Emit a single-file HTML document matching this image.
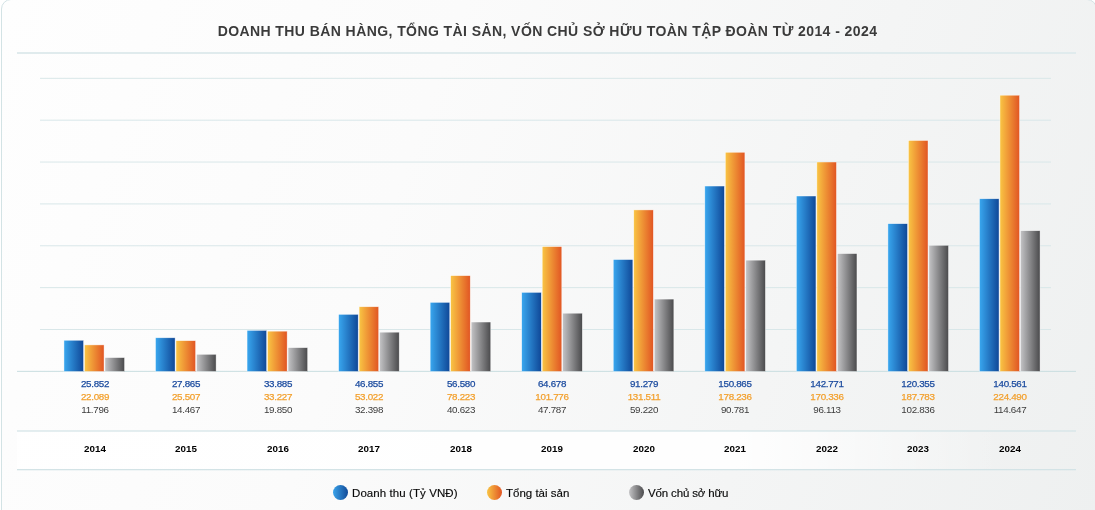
<!DOCTYPE html>
<html><head><meta charset="utf-8">
<style>
html,body{margin:0;padding:0;}
body{width:1095px;height:510px;overflow:hidden;position:relative;background:#fff;font-family:"Liberation Sans",Arial,sans-serif;}
.card{position:absolute;left:1px;top:-1px;width:1096px;height:530px;box-sizing:border-box;border:1px solid #d3e3e5;border-radius:10px;
background:linear-gradient(110deg,#fefefe 0%,#fbfbfb 36%,#f4f5f5 70%,#eef0f0 100%);overflow:hidden}
.band{position:absolute;left:17px;top:431px;width:1059px;height:38px;background:linear-gradient(90deg,rgba(255,255,255,0.9) 0%,rgba(255,255,255,0.9) 68%,rgba(255,255,255,0) 93%)}
.hl{position:absolute;left:17px;width:1059px;height:1px;background:#d3e3e6}
svg{position:absolute;left:0;top:0}
.title{position:absolute;left:0;width:1095px;top:23px;text-align:center;font-weight:bold;font-size:14px;color:#3b3b3b;white-space:nowrap;letter-spacing:0.42px;will-change:transform}
.lb{position:absolute;width:80px;text-align:center;font-size:9.8px;line-height:13px;letter-spacing:-0.3px;will-change:transform}
.lb span{display:block}
.b{color:#1a4a9e;-webkit-text-stroke:0.25px #1a4a9e} .o{color:#f2a02e;-webkit-text-stroke:0.25px #f2a02e} .g{color:#3c3c3c}
.yr{position:absolute;width:80px;text-align:center;top:442.7px;font-size:9.8px;font-weight:bold;color:#000;will-change:transform}
.leg{position:absolute;top:486px;font-size:11.5px;color:#0a0a0a;-webkit-text-stroke:0.15px #0a0a0a;line-height:15px;white-space:nowrap;will-change:transform}
.dot{position:absolute;top:484.5px;width:15.4px;height:15.4px;border-radius:50%}
</style></head><body>
<div class="card">
</div>
<div class="band"></div>
<div class="hl" style="top:52px;height:2px;background:#e0ebed"></div>
<svg width="1095" height="510" viewBox="0 0 1095 510">
<defs>
<linearGradient id="gb" x1="0" y1="0" x2="1" y2="0"><stop offset="0" stop-color="#39a7ef"/><stop offset="1" stop-color="#0f4797"/></linearGradient>
<linearGradient id="go" x1="0" y1="0" x2="1" y2="0"><stop offset="0" stop-color="#f9c544"/><stop offset="1" stop-color="#e15523"/></linearGradient>
<linearGradient id="gg" x1="0" y1="0" x2="1" y2="0"><stop offset="0" stop-color="#c4c4c6"/><stop offset="1" stop-color="#4a4a4c"/></linearGradient>
</defs>
<rect x="40" y="328.99" width="1011" height="1" fill="#d9e7e9"/><rect x="40" y="287.13" width="1011" height="1" fill="#d9e7e9"/><rect x="40" y="245.27" width="1011" height="1" fill="#d9e7e9"/><rect x="40" y="203.41" width="1011" height="1" fill="#d9e7e9"/><rect x="40" y="161.55" width="1011" height="1" fill="#d9e7e9"/><rect x="40" y="119.69" width="1011" height="1" fill="#d9e7e9"/><rect x="40" y="77.83" width="1011" height="1" fill="#d9e7e9"/>
<rect x="17" y="370.85" width="1059" height="1" fill="#c8dde0"/>
<rect x="17" y="430.4" width="1059" height="1.2" fill="#d3e3e6"/>
<rect x="17" y="469" width="1059" height="1.3" fill="#d3e3e6"/>
<rect x="63.95" y="340.26" width="19.6" height="31.24" fill="url(#gb)" stroke="rgba(255,255,255,0.7)" stroke-width="0.6"/><rect x="84.45" y="344.90" width="19.6" height="26.60" fill="url(#go)" stroke="rgba(255,255,255,0.7)" stroke-width="0.6"/><rect x="104.95" y="357.60" width="19.6" height="13.90" fill="url(#gg)" stroke="rgba(255,255,255,0.7)" stroke-width="0.6"/><rect x="155.50" y="337.77" width="19.6" height="33.73" fill="url(#gb)" stroke="rgba(255,255,255,0.7)" stroke-width="0.6"/><rect x="176.00" y="340.68" width="19.6" height="30.82" fill="url(#go)" stroke="rgba(255,255,255,0.7)" stroke-width="0.6"/><rect x="196.50" y="354.30" width="19.6" height="17.20" fill="url(#gg)" stroke="rgba(255,255,255,0.7)" stroke-width="0.6"/><rect x="247.05" y="330.35" width="19.6" height="41.15" fill="url(#gb)" stroke="rgba(255,255,255,0.7)" stroke-width="0.6"/><rect x="267.55" y="331.16" width="19.6" height="40.34" fill="url(#go)" stroke="rgba(255,255,255,0.7)" stroke-width="0.6"/><rect x="288.05" y="347.66" width="19.6" height="23.84" fill="url(#gg)" stroke="rgba(255,255,255,0.7)" stroke-width="0.6"/><rect x="338.60" y="314.34" width="19.6" height="57.16" fill="url(#gb)" stroke="rgba(255,255,255,0.7)" stroke-width="0.6"/><rect x="359.10" y="306.74" width="19.6" height="64.76" fill="url(#go)" stroke="rgba(255,255,255,0.7)" stroke-width="0.6"/><rect x="379.60" y="332.18" width="19.6" height="39.32" fill="url(#gg)" stroke="rgba(255,255,255,0.7)" stroke-width="0.6"/><rect x="430.15" y="302.35" width="19.6" height="69.15" fill="url(#gb)" stroke="rgba(255,255,255,0.7)" stroke-width="0.6"/><rect x="450.65" y="275.65" width="19.6" height="95.85" fill="url(#go)" stroke="rgba(255,255,255,0.7)" stroke-width="0.6"/><rect x="471.15" y="322.03" width="19.6" height="49.47" fill="url(#gg)" stroke="rgba(255,255,255,0.7)" stroke-width="0.6"/><rect x="521.70" y="292.36" width="19.6" height="79.14" fill="url(#gb)" stroke="rgba(255,255,255,0.7)" stroke-width="0.6"/><rect x="542.20" y="246.59" width="19.6" height="124.91" fill="url(#go)" stroke="rgba(255,255,255,0.7)" stroke-width="0.6"/><rect x="562.70" y="313.20" width="19.6" height="58.30" fill="url(#gg)" stroke="rgba(255,255,255,0.7)" stroke-width="0.6"/><rect x="613.25" y="259.54" width="19.6" height="111.96" fill="url(#gb)" stroke="rgba(255,255,255,0.7)" stroke-width="0.6"/><rect x="633.75" y="209.90" width="19.6" height="161.60" fill="url(#go)" stroke="rgba(255,255,255,0.7)" stroke-width="0.6"/><rect x="654.25" y="299.09" width="19.6" height="72.41" fill="url(#gg)" stroke="rgba(255,255,255,0.7)" stroke-width="0.6"/><rect x="704.80" y="186.03" width="19.6" height="185.47" fill="url(#gb)" stroke="rgba(255,255,255,0.7)" stroke-width="0.6"/><rect x="725.30" y="152.26" width="19.6" height="219.24" fill="url(#go)" stroke="rgba(255,255,255,0.7)" stroke-width="0.6"/><rect x="745.80" y="260.15" width="19.6" height="111.35" fill="url(#gg)" stroke="rgba(255,255,255,0.7)" stroke-width="0.6"/><rect x="796.35" y="196.01" width="19.6" height="175.49" fill="url(#gb)" stroke="rgba(255,255,255,0.7)" stroke-width="0.6"/><rect x="816.85" y="162.01" width="19.6" height="209.49" fill="url(#go)" stroke="rgba(255,255,255,0.7)" stroke-width="0.6"/><rect x="837.35" y="253.58" width="19.6" height="117.92" fill="url(#gg)" stroke="rgba(255,255,255,0.7)" stroke-width="0.6"/><rect x="887.90" y="223.67" width="19.6" height="147.83" fill="url(#gb)" stroke="rgba(255,255,255,0.7)" stroke-width="0.6"/><rect x="908.40" y="140.48" width="19.6" height="231.02" fill="url(#go)" stroke="rgba(255,255,255,0.7)" stroke-width="0.6"/><rect x="928.90" y="245.28" width="19.6" height="126.22" fill="url(#gg)" stroke="rgba(255,255,255,0.7)" stroke-width="0.6"/><rect x="979.45" y="198.74" width="19.6" height="172.76" fill="url(#gb)" stroke="rgba(255,255,255,0.7)" stroke-width="0.6"/><rect x="999.95" y="95.20" width="19.6" height="276.30" fill="url(#go)" stroke="rgba(255,255,255,0.7)" stroke-width="0.6"/><rect x="1020.45" y="230.71" width="19.6" height="140.79" fill="url(#gg)" stroke="rgba(255,255,255,0.7)" stroke-width="0.6"/>
</svg>
<div class="title">DOANH THU BÁN HÀNG, TỔNG TÀI SẢN, VỐN CHỦ SỞ HỮU TOÀN TẬP ĐOÀN TỪ 2014 - 2024</div>
<div class="lb" style="left:54.50px;top:377.3px"><span class="b">25.852</span><span class="o">22.089</span><span class="g">11.796</span></div><div class="yr" style="left:54.50px">2014</div><div class="lb" style="left:146.05px;top:377.3px"><span class="b">27.865</span><span class="o">25.507</span><span class="g">14.467</span></div><div class="yr" style="left:146.05px">2015</div><div class="lb" style="left:237.60px;top:377.3px"><span class="b">33.885</span><span class="o">33.227</span><span class="g">19.850</span></div><div class="yr" style="left:237.60px">2016</div><div class="lb" style="left:329.15px;top:377.3px"><span class="b">46.855</span><span class="o">53.022</span><span class="g">32.398</span></div><div class="yr" style="left:329.15px">2017</div><div class="lb" style="left:420.70px;top:377.3px"><span class="b">56.580</span><span class="o">78.223</span><span class="g">40.623</span></div><div class="yr" style="left:420.70px">2018</div><div class="lb" style="left:512.25px;top:377.3px"><span class="b">64.678</span><span class="o">101.776</span><span class="g">47.787</span></div><div class="yr" style="left:512.25px">2019</div><div class="lb" style="left:603.80px;top:377.3px"><span class="b">91.279</span><span class="o">131.511</span><span class="g">59.220</span></div><div class="yr" style="left:603.80px">2020</div><div class="lb" style="left:695.35px;top:377.3px"><span class="b">150.865</span><span class="o">178.236</span><span class="g">90.781</span></div><div class="yr" style="left:695.35px">2021</div><div class="lb" style="left:786.90px;top:377.3px"><span class="b">142.771</span><span class="o">170.336</span><span class="g">96.113</span></div><div class="yr" style="left:786.90px">2022</div><div class="lb" style="left:878.45px;top:377.3px"><span class="b">120.355</span><span class="o">187.783</span><span class="g">102.836</span></div><div class="yr" style="left:878.45px">2023</div><div class="lb" style="left:970.00px;top:377.3px"><span class="b">140.561</span><span class="o">224.490</span><span class="g">114.647</span></div><div class="yr" style="left:970.00px">2024</div>
<div class="dot" style="left:332.9px;background:linear-gradient(90deg,#3aa3ea,#114a98)"></div>
<div class="leg" style="left:352px;letter-spacing:0.08px">Doanh thu (Tỷ VNĐ)</div>
<div class="dot" style="left:486.6px;background:linear-gradient(90deg,#f9c544,#e15523)"></div>
<div class="leg" style="left:506px">Tổng tài sản</div>
<div class="dot" style="left:629px;background:linear-gradient(90deg,#c4c4c6,#4a4a4c)"></div>
<div class="leg" style="left:648px;letter-spacing:-0.15px">Vốn chủ sở hữu</div>
</body></html>
